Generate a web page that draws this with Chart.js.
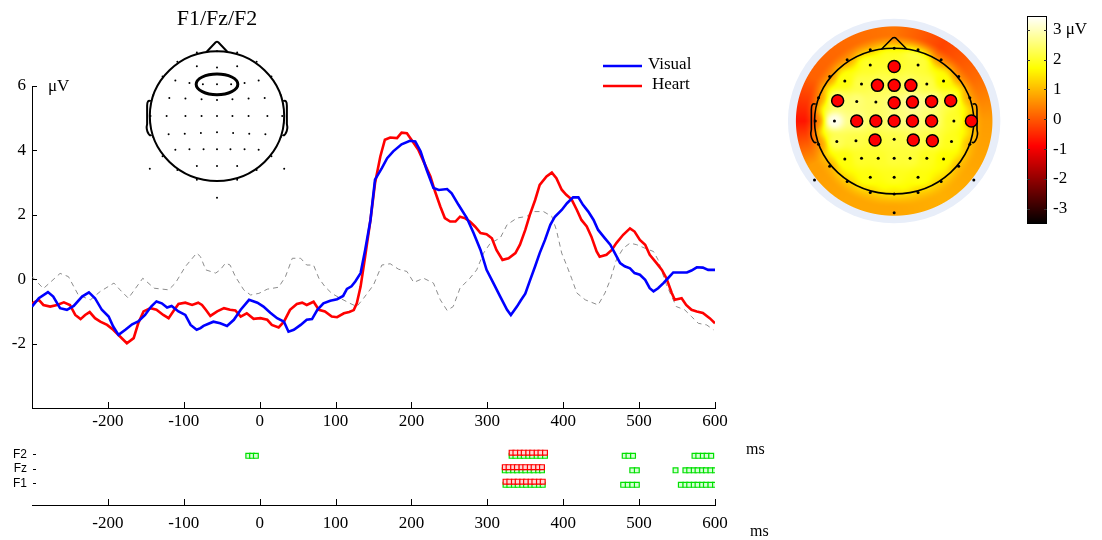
<!DOCTYPE html>
<html>
<head>
<meta charset="utf-8">
<script src="https://cdn.jsdelivr.net/npm/chart.js@4.4.0/dist/chart.umd.min.js"></script>
<style>
body { margin: 0; background: #fff; }
#wrap { position: relative; width: 1102px; height: 540px; overflow: hidden; background: #fff; }
canvas { position: absolute; }
</style>
</head>
<body>
<div id="wrap">
  <canvas id="erp" width="760" height="430" style="left:0;top:0"></canvas>
  <canvas id="sig" width="800" height="110" style="left:0;top:430px"></canvas>
  <canvas id="head" width="180" height="215" style="left:127px;top:0"></canvas>
  <canvas id="topo" width="250" height="240" style="left:770px;top:0"></canvas>
  <canvas id="cbar" width="87" height="240" style="left:1015px;top:0"></canvas>
</div>
<script>
const SERIF = 'Liberation Serif';
const SANS = 'Liberation Sans';

// ---- ERP traces at F1/Fz/F2 (ms, microvolts) ----
const visualTime = [-300,-291,-279,-272,-263,-254,-245,-234,-225,-217,-208,-199,-193,-186,-177,-168,-160,-151,-143,-136,-129,-122,-116,-107,-98,-91,-83,-78,-74,-69,-61,-52,-43,-34,-25,-14,-3,5,14,23,32,38,45,54,62,69,76,84,93,102,110,115,121,126,133,139,146,152,161,168,176,187,198,205,212,220,229,236,247,253,262,273,282,291,299,308,317,326,331,339,344,350,356,363,369,376,383,389,398,405,413,420,426,433,440,446,455,462,468,475,481,488,494,501,508,514,519,525,532,538,545,554,563,569,576,584,591,600];
const visualData = [-0.85,-0.59,-0.40,-0.54,-0.90,-0.95,-0.83,-0.54,-0.41,-0.59,-0.95,-1.16,-1.47,-1.73,-1.57,-1.40,-1.31,-1.11,-0.85,-0.69,-0.75,-0.88,-0.83,-1.00,-1.11,-1.42,-1.57,-1.52,-1.45,-1.40,-1.32,-1.37,-1.45,-1.26,-0.95,-0.64,-0.73,-0.85,-1.04,-1.21,-1.32,-1.63,-1.57,-1.42,-1.26,-1.24,-0.95,-0.75,-0.67,-0.62,-0.52,-0.30,-0.22,-0.07,0.19,0.91,1.84,3.09,3.45,3.76,3.97,4.19,4.30,4.28,3.97,3.40,2.83,2.77,2.80,2.67,2.31,1.90,1.43,0.91,0.29,-0.12,-0.54,-0.95,-1.11,-0.85,-0.66,-0.45,-0.05,0.40,0.81,1.22,1.69,1.94,2.15,2.36,2.54,2.54,2.31,2.10,1.84,1.53,1.27,1.07,0.81,0.50,0.40,0.34,0.19,0.14,-0.02,-0.28,-0.38,-0.28,-0.12,0.03,0.21,0.21,0.21,0.27,0.37,0.36,0.29,0.29];

const heartTime = [-300,-291,-285,-276,-267,-258,-250,-243,-236,-230,-224,-217,-210,-201,-193,-184,-175,-166,-160,-153,-144,-136,-127,-120,-114,-107,-98,-89,-81,-76,-71,-65,-56,-47,-39,-32,-25,-17,-8,1,10,16,25,32,40,49,56,62,71,78,86,95,102,111,118,124,128,133,139,146,152,159,165,172,181,187,194,200,209,218,225,231,238,244,251,258,264,271,277,284,291,299,306,312,320,328,337,343,350,356,363,369,378,385,391,398,404,411,418,424,431,437,444,448,457,464,470,479,488,494,501,508,514,523,530,536,543,547,556,562,569,576,584,593,600];
const heartData = [-0.75,-0.64,-0.80,-0.85,-0.80,-0.72,-0.80,-1.11,-1.24,-1.11,-1.02,-1.21,-1.32,-1.42,-1.57,-1.78,-1.99,-1.83,-1.37,-1.00,-0.90,-0.95,-1.11,-1.21,-1.00,-0.77,-0.73,-0.80,-0.73,-0.80,-0.95,-1.14,-1.00,-0.90,-0.95,-0.97,-1.16,-1.06,-1.23,-1.21,-1.26,-1.42,-1.50,-1.32,-0.95,-0.77,-0.73,-0.80,-0.70,-0.95,-1.00,-1.16,-1.18,-1.06,-1.02,-0.96,-0.75,-0.23,0.70,1.84,2.98,3.81,4.33,4.40,4.38,4.55,4.53,4.33,4.02,3.55,3.19,2.73,2.26,1.90,1.79,1.79,1.94,1.89,1.79,1.63,1.43,1.40,1.27,0.91,0.60,0.65,0.81,1.07,1.53,2.00,2.46,2.93,3.19,3.31,3.14,2.78,2.62,2.48,2.15,1.84,1.64,1.33,0.86,0.70,0.76,0.91,1.12,1.38,1.58,1.48,1.22,1.07,0.76,0.50,0.29,0.03,-0.43,-0.64,-0.59,-0.80,-0.95,-1.00,-1.05,-1.21,-1.37];

// difference wave (Heart - Visual), grey dashed
const diffTime = [-300,-285,-263,-252,-239,-223,-210,-192,-184,-173,-165,-154,-139,-120,-111,-98,-83,-78,-71,-58,-52,-45,-39,-32,-21,-12,-1,10,25,34,43,54,62,71,78,86,95,106,119,128,137,150,161,172,183,194,203,216,229,238,247,255,264,277,286,295,304,317,326,339,352,361,374,385,391,398,405,411,418,429,446,455,462,470,479,488,497,508,519,525,530,536,543,549,560,569,578,589,598];
const diffData = [0.08,-0.29,0.18,0.08,-0.49,-0.64,-0.38,-0.12,-0.33,-0.59,-0.33,0.03,-0.28,-0.33,-0.12,0.39,0.81,0.70,0.29,0.19,0.29,0.50,0.44,0.08,-0.33,-0.49,-0.44,-0.31,-0.25,0.08,0.65,0.65,0.44,0.44,0.03,-0.23,-0.44,-0.59,-0.75,-0.85,-0.59,-0.18,0.44,0.48,0.31,0.24,-0.10,0.03,-0.12,-0.64,-0.97,-0.85,-0.28,0.03,0.29,0.81,1.12,1.28,1.69,1.90,1.95,2.10,2.10,1.95,1.53,0.81,0.40,0.03,-0.43,-0.64,-0.80,-0.43,-0.02,0.60,0.96,1.12,1.07,0.96,0.86,0.60,0.24,-0.17,-0.54,-0.85,-0.95,-1.16,-1.37,-1.42,-1.57];

// ---- significant samples per channel (ms) ----
const sigRows = ['F1', 'Fz', 'F2'];
const heartSigF2 = [332,337,343,348,354,359,365,370,376];
const heartSigFz = [323,328,334,339,345,350,356,361,367,372];
const heartSigF1 = [324,329,335,340,346,351,357,362,368,373];
const visualSigF2 = [-15,-10,-5,332,337,343,348,354,359,365,370,376,481,486,492,573,578,584,589,595];
const visualSigFz = [323,328,334,339,345,350,356,361,367,372,491,497,548,561,566,572,577,583,588,594,600];
const visualSigF1 = [324,329,335,340,346,351,357,362,368,373,479,485,491,497,555,561,566,572,577,583,588,594,600];

// ---- electrode montage (head units) and scalp values for the map ----
const electrodeNames = ['Fp1','Fpz','Fp2','AF7','AF3','AFz','AF4','AF8','F7','F5','F3','F1','Fz','F2','F4','F6','F8','FT7','FC5','FC3','FC1','FCz','FC2','FC4','FC6','FT8','T7','C5','C3','C1','Cz','C2','C4','C6','T8','TP7','CP5','CP3','CP1','CPz','CP2','CP4','CP6','TP8','P7','P5','P3','P1','Pz','P2','P4','P6','P8','PO7','PO5','PO3','POz','PO4','PO6','PO8','O1','Oz','O2','Iz'];
const electrodeX = [-0.30,0,0.30,-0.59,-0.30,0,0.30,0.59,-0.81,-0.62,-0.41,-0.21,0,0.21,0.41,0.62,0.81,-0.95,-0.71,-0.47,-0.23,0,0.23,0.47,0.71,0.95,-0.99,-0.75,-0.47,-0.23,0,0.23,0.47,0.75,0.97,-0.95,-0.72,-0.48,-0.24,0,0.24,0.48,0.72,0.95,-0.81,-0.62,-0.41,-0.20,0,0.20,0.41,0.62,0.81,-1.0,-0.59,-0.30,0,0.30,0.59,1.0,-0.30,0,0.30,0];
const electrodeY = [0.98,1.0,0.98,0.84,0.77,0.75,0.77,0.84,0.61,0.55,0.51,0.49,0.49,0.49,0.51,0.55,0.61,0.32,0.28,0.27,0.26,0.25,0.26,0.27,0.28,0.32,0,0,0,0,0,0,0,0,0,-0.32,-0.28,-0.27,-0.26,-0.25,-0.26,-0.27,-0.28,-0.32,-0.62,-0.52,-0.51,-0.51,-0.51,-0.51,-0.51,-0.52,-0.62,-0.81,-0.83,-0.77,-0.77,-0.77,-0.83,-0.81,-0.98,-1.0,-0.98,-1.26];
const topoValues = [1.6,1.9,2.3,1.2,2.0,2.0,2.1,1.1,1.1,1.8,2.2,2.3,2.3,2.4,2.2,1.7,1.1,1.2,2.6,2.5,2.4,2.6,2.9,2.7,2.2,1.2,0.8,3.3,2.7,2.4,2.6,2.7,2.5,2.0,1.3,1.0,2.3,2.2,2.1,2.2,2.3,2.2,1.9,1.3,1.2,1.8,2.0,2.0,2.1,2.1,1.9,1.7,1.3,0.9,1.5,1.8,1.9,1.8,1.5,1.0,1.5,1.6,1.5,1.1];
// value at the rim of the map, every 30 degrees clockwise from the nose
const rimValues = [0.3,-0.2,0.2,0.7,0.8,0.9,0.8,0.8,0.7,-0.7,0.1,0.2];
const significantElectrodes = ['AFz','F1','Fz','F2','FC5','FCz','FC2','FC4','FC6','C3','C1','Cz','C2','C4','T8','CP1','CP2','CP4'];
const roiElectrodes = ['F1', 'Fz', 'F2'];
const colorbarTicks = [-3, -2, -1, 0, 1, 2, 3];

const hotMin = -3.5, hotMax = 3.45;
function hot(v) {
  const f = Math.min(1, Math.max(0, (v - hotMin) / (hotMax - hotMin)));
  const r = Math.min(1, f / 0.375);
  const g = Math.min(1, Math.max(0, (f - 0.375) / 0.375));
  const b = Math.min(1, Math.max(0, (f - 0.75) / 0.25));
  return [Math.round(r * 255), Math.round(g * 255), Math.round(b * 255)];
}

function toPoints(ts, vs) {
  return ts.map((t, i) => ({x: t, y: vs[i]}));
}

// nose, ears and outline of a head in head units
function drawHead(ctx, x, y, lw) {
  const cx = x.getPixelForValue(0), cy = y.getPixelForValue(0);
  const ux = x.getPixelForValue(1) - cx, uy = cy - y.getPixelForValue(1);
  const P = (a, b) => [cx + a * ux, cy - b * uy];
  ctx.save();
  ctx.strokeStyle = '#000';
  ctx.lineWidth = lw;
  ctx.beginPath();
  ctx.ellipse(cx, cy, ux, uy, 0, 0, 2 * Math.PI);
  ctx.stroke();
  ctx.beginPath();
  ctx.moveTo(...P(-0.16, 0.985));
  ctx.lineTo(...P(-0.02, 1.14));
  ctx.quadraticCurveTo(...P(0, 1.155), ...P(0.02, 1.14));
  ctx.lineTo(...P(0.16, 0.985));
  ctx.stroke();
  for (const s of [-1, 1]) {
    ctx.beginPath();
    ctx.moveTo(...P(s * 0.985, 0.23));
    ctx.quadraticCurveTo(...P(s * 1.04, 0.26), ...P(s * 1.04, 0.16));
    ctx.lineTo(...P(s * 1.04, -0.12));
    ctx.quadraticCurveTo(...P(s * 1.06, -0.2), ...P(s * 1.02, -0.27));
    ctx.quadraticCurveTo(...P(s * 1.0, -0.31), ...P(s * 0.975, -0.29));
    ctx.stroke();
  }
  ctx.restore();
}

// ---------- main ERP chart ----------
const erpDecor = {
  id: 'erpDecor',
  afterDraw(chart) {
    const {ctx, chartArea: a, scales: {x, y}} = chart;
    ctx.save();
    ctx.strokeStyle = '#000';
    ctx.lineWidth = 1;
    ctx.beginPath();
    x.ticks.filter(t => t.value > x.min).forEach(t => {
      const px = Math.round(x.getPixelForValue(t.value)) + 0.5;
      ctx.moveTo(px, a.bottom);
      ctx.lineTo(px, a.bottom - 6);
    });
    y.ticks.filter(t => t.value > y.min).forEach(t => {
      const py = Math.round(y.getPixelForValue(t.value)) + 0.5;
      ctx.moveTo(a.left, py);
      ctx.lineTo(a.left + 5, py);
    });
    ctx.stroke();
    ctx.fillStyle = '#000';
    ctx.font = '17px ' + SERIF;
    ctx.textBaseline = 'middle';
    ctx.textAlign = 'left';
    ctx.fillText('\u03bcV', a.left + 16, y.getPixelForValue(6) + 1);
    // legend
    const legendItems = chart.data.datasets.filter(d => d.label !== 'Heart - Visual');
    legendItems.forEach((d, i) => {
      const ly = 66 + i * 20;
      ctx.strokeStyle = d.borderColor;
      ctx.lineWidth = 2.5;
      ctx.beginPath();
      ctx.moveTo(603, ly);
      ctx.lineTo(642, ly);
      ctx.stroke();
      ctx.fillStyle = '#000';
      ctx.fillText(d.label, i === 0 ? 648 : 652, ly - 1);
    });
    ctx.restore();
  }
};

new Chart(document.getElementById('erp'), {
  type: 'line',
  data: {
    datasets: [
      {label: 'Visual', data: toPoints(visualTime, visualData), borderColor: '#0000ff', borderWidth: 2.6, pointRadius: 0, tension: 0},
      {label: 'Heart', data: toPoints(heartTime, heartData), borderColor: '#ff0000', borderWidth: 2.6, pointRadius: 0, tension: 0},
      {label: 'Heart - Visual', data: toPoints(diffTime, diffData), borderColor: '#8c8c8c', borderWidth: 1, borderDash: [5, 4], pointRadius: 0, tension: 0}
    ]
  },
  options: {
    responsive: false,
    animation: false,
    events: [],
    layout: {padding: {top: 86, right: 45, left: 0, bottom: 0}},
    plugins: {legend: {display: false}, tooltip: {enabled: false}},
    scales: {
      x: {
        type: 'linear', min: -300, max: 600,
        ticks: {stepSize: 100, autoSkip: false, maxRotation: 0, padding: 3, color: '#000',
          font: {family: SERIF, size: 17}, callback: v => (v === -300 ? '' : v)},
        grid: {drawOnChartArea: false, drawTicks: false},
        border: {color: '#000', width: 1},
        afterFit: s => { s.height = 22; }
      },
      y: {
        min: -4, max: 6,
        ticks: {stepSize: 2, padding: 6, color: '#000',
          font: {family: SERIF, size: 17}, callback: v => (v === -4 ? '' : v)},
        grid: {drawOnChartArea: false, drawTicks: false},
        border: {color: '#000', width: 1},
        afterFit: s => { s.width = 32; }
      }
    }
  },
  plugins: [erpDecor]
});

// ---------- significance raster ----------
const rowValue = name => sigRows.indexOf(name) + 1;
const sigDecor = {
  id: 'sigDecor',
  afterDraw(chart) {
    const {ctx, chartArea: a, scales: {x, y}} = chart;
    ctx.save();
    ctx.strokeStyle = '#000';
    ctx.lineWidth = 1;
    ctx.beginPath();
    x.ticks.filter(t => t.value > x.min).forEach(t => {
      const px = Math.round(x.getPixelForValue(t.value)) + 0.5;
      ctx.moveTo(px, a.bottom);
      ctx.lineTo(px, a.bottom - 6);
    });
    sigRows.forEach(r => {
      const py = Math.round(y.getPixelForValue(rowValue(r))) + 0.5;
      ctx.moveTo(a.left + 1, py);
      ctx.lineTo(a.left + 4, py);
    });
    ctx.stroke();
    ctx.fillStyle = '#000';
    ctx.font = '16px ' + SERIF;
    ctx.textBaseline = 'middle';
    ctx.fillText('ms', 746, 20);
    ctx.fillText('ms', 750, 102);
    ctx.restore();
  }
};

function sigSet(times, row, color, fill, shift) {
  return {
    data: times.map(t => ({x: t, y: rowValue(row) + shift})),
    showLine: false, pointStyle: 'rect', pointRadius: 3.4,
    borderColor: color, backgroundColor: fill, borderWidth: 1.2
  };
}

new Chart(document.getElementById('sig'), {
  type: 'scatter',
  data: {
    datasets: [
      sigSet(heartSigF2, 'F2', '#ff0000', '#ffd6d6', 0.11),
      sigSet(heartSigFz, 'Fz', '#ff0000', '#ffd6d6', 0.11),
      sigSet(heartSigF1, 'F1', '#ff0000', '#ffd6d6', 0.11),
      sigSet(visualSigF2, 'F2', '#00e000', '#d6ffd6', -0.11),
      sigSet(visualSigFz, 'Fz', '#00e000', '#d6ffd6', -0.11),
      sigSet(visualSigF1, 'F1', '#00e000', '#d6ffd6', -0.11)
    ]
  },
  options: {
    responsive: false,
    animation: false,
    events: [],
    layout: {padding: {top: 10, right: 85, left: 0, bottom: 0}},
    plugins: {legend: {display: false}, tooltip: {enabled: false}},
    scales: {
      x: {
        type: 'linear', min: -300, max: 600,
        ticks: {stepSize: 100, autoSkip: false, maxRotation: 0, padding: 8, color: '#000',
          font: {family: SERIF, size: 17}, callback: v => (v === -300 ? '' : v)},
        grid: {drawOnChartArea: false, drawTicks: false},
        border: {color: '#000', width: 1},
        afterFit: s => { s.height = 35; }
      },
      y: {
        min: -0.5, max: 3.83,
        afterBuildTicks: s => { s.ticks = sigRows.map(r => ({value: rowValue(r)})); },
        ticks: {padding: 5, color: '#000', font: {family: SANS, size: 12},
          callback: v => sigRows[Math.round(v) - 1] || ''},
        grid: {drawOnChartArea: false, drawTicks: false},
        border: {display: false},
        afterFit: s => { s.width = 32; }
      }
    }
  },
  plugins: [sigDecor]
});

// ---------- electrode diagram with the F1/Fz/F2 region ----------
const headDecor = {
  id: 'headDecor',
  beforeDatasetsDraw(chart) {
    const {ctx, scales: {x, y}} = chart;
    drawHead(ctx, x, y, 2);
    const roiX = roiElectrodes.map(n => electrodeX[electrodeNames.indexOf(n)]);
    const roiY = roiElectrodes.map(n => electrodeY[electrodeNames.indexOf(n)]);
    const mx = (Math.min(...roiX) + Math.max(...roiX)) / 2;
    const my = roiY.reduce((s, v) => s + v, 0) / roiY.length;
    const cx = x.getPixelForValue(mx), cy = y.getPixelForValue(my);
    const rx = x.getPixelForValue(Math.max(...roiX) + 0.1) - cx;
    const ry = cy - y.getPixelForValue(my + 0.16);
    ctx.save();
    ctx.strokeStyle = '#000';
    ctx.lineWidth = 3;
    ctx.beginPath();
    ctx.ellipse(cx, cy, rx, ry, 0, 0, 2 * Math.PI);
    ctx.stroke();
    ctx.restore();
  }
};

new Chart(document.getElementById('head'), {
  type: 'scatter',
  data: {
    datasets: [{
      data: electrodeNames.map((n, i) => ({x: electrodeX[i], y: electrodeY[i]})),
      pointRadius: 1, backgroundColor: '#000', borderWidth: 0
    }]
  },
  options: {
    responsive: false,
    animation: false,
    events: [],
    layout: {padding: 0},
    plugins: {
      legend: {display: false}, tooltip: {enabled: false},
      title: {display: true, text: 'F1/Fz/F2', color: '#000',
        font: {family: SERIF, size: 22, weight: 'normal'}, padding: {top: 6, bottom: 0}}
    },
    scales: {
      x: {display: false, min: -1.28, max: 1.28},
      y: {display: false, min: -1.463, max: 1.291}
    }
  },
  plugins: [headDecor]
});

// ---------- scalp map ----------
const discRX = 1.234, discRY = 1.30, ringRX = 1.334, ringRY = 1.403;
function rimValue(deg) {
  const n = rimValues.length, step = 360 / n;
  const k = (((deg % 360) + 360) % 360) / step;
  const i = Math.floor(k) % n, f = k - Math.floor(k);
  return rimValues[i] * (1 - f) + rimValues[(i + 1) % n] * f;
}
function fieldAt(nx, ny) {
  let sw = 0, sv = 0;
  for (let i = 0; i < electrodeNames.length; i++) {
    const dx = nx - electrodeX[i], dy = ny - electrodeY[i];
    const d2 = dx * dx + dy * dy;
    if (d2 < 1e-8) return topoValues[i];
    const w = 1 / (d2 * Math.sqrt(d2));
    sw += w;
    sv += w * topoValues[i];
  }
  return sv / sw;
}

const topoField = {
  id: 'topoField',
  beforeDatasetsDraw(chart) {
    const {ctx, scales: {x, y}} = chart;
    const cx = x.getPixelForValue(0), cy = y.getPixelForValue(0);
    const ux = x.getPixelForValue(1) - cx, uy = cy - y.getPixelForValue(1);
    ctx.save();
    ctx.fillStyle = '#e8eef9';
    ctx.beginPath();
    ctx.ellipse(cx, cy, ringRX * ux, ringRY * uy, 0, 0, 2 * Math.PI);
    ctx.fill();

    const x0 = Math.floor(cx - discRX * ux) - 1, y0 = Math.floor(cy - discRY * uy) - 1;
    const w = Math.ceil(2 * discRX * ux) + 3, h = Math.ceil(2 * discRY * uy) + 3;
    const off = document.createElement('canvas');
    off.width = w; off.height = h;
    const octx = off.getContext('2d');
    const img = octx.createImageData(w, h);
    for (let j = 0; j < h; j++) {
      for (let i = 0; i < w; i++) {
        const nx = x.getValueForPixel(x0 + i + 0.5);
        const ny = y.getValueForPixel(y0 + j + 0.5);
        const rn = Math.sqrt((nx / discRX) ** 2 + (ny / discRY) ** 2);
        if (rn > 1.01) continue;
        let t = Math.min(1, Math.max(0, (rn - 0.7) / 0.22));
        t = t * t * (3 - 2 * t);
        const deg = Math.atan2(nx, ny) * 180 / Math.PI;
        const v = fieldAt(nx, ny) * (1 - t) + rimValue(deg) * t;
        const c = hot(v);
        const k = (j * w + i) * 4;
        img.data[k] = c[0];
        img.data[k + 1] = c[1];
        img.data[k + 2] = c[2];
        img.data[k + 3] = Math.round(255 * Math.min(1, Math.max(0, (1 - rn) * 100 + 0.5)));
      }
    }
    octx.putImageData(img, 0, 0);
    ctx.drawImage(off, x0, y0);
    ctx.restore();
    drawHead(ctx, x, y, 1.6);
  }
};

const isSig = n => significantElectrodes.includes(n);
new Chart(document.getElementById('topo'), {
  type: 'scatter',
  data: {
    datasets: [
      {
        data: electrodeNames.filter(isSig).map(n => {
          const i = electrodeNames.indexOf(n);
          return {x: electrodeX[i], y: electrodeY[i]};
        }),
        pointRadius: 6, backgroundColor: '#ff0000', borderColor: '#000', borderWidth: 1.5
      },
      {
        data: electrodeNames.filter(n => !isSig(n)).map(n => {
          const i = electrodeNames.indexOf(n);
          return {x: electrodeX[i], y: electrodeY[i]};
        }),
        pointRadius: 1.5, backgroundColor: '#000', borderWidth: 0
      }
    ]
  },
  options: {
    responsive: false,
    animation: false,
    events: [],
    layout: {padding: 0},
    plugins: {legend: {display: false}, tooltip: {enabled: false}},
    scales: {
      x: {display: false, min: -1.465, max: 1.486},
      y: {display: false, min: -1.530, max: 1.559}
    }
  },
  plugins: [topoField]
});

// ---------- colour bar ----------
const cbarFill = {
  id: 'cbarFill',
  beforeDatasetsDraw(chart) {
    const {ctx, chartArea: a, scales: {y}} = chart;
    ctx.save();
    for (let py = Math.floor(a.top); py < a.bottom; py++) {
      const c = hot(y.getValueForPixel(py + 0.5));
      ctx.fillStyle = 'rgb(' + c.join(',') + ')';
      ctx.fillRect(a.left, py, a.right - a.left, 1);
    }
    ctx.strokeStyle = '#000';
    ctx.lineWidth = 1;
    ctx.strokeRect(Math.round(a.left) + 0.5, Math.round(a.top) + 0.5, Math.round(a.right - a.left) - 1, Math.round(a.bottom - a.top) - 1);
    ctx.strokeStyle = '#333';
    ctx.beginPath();
    colorbarTicks.forEach(v => {
      const py = Math.round(y.getPixelForValue(v)) + 0.5;
      ctx.moveTo(a.left, py); ctx.lineTo(a.left + 3, py);
      ctx.moveTo(a.right - 3, py); ctx.lineTo(a.right, py);
    });
    ctx.stroke();
    ctx.restore();
  }
};

new Chart(document.getElementById('cbar'), {
  type: 'scatter',
  data: {datasets: []},
  options: {
    responsive: false,
    animation: false,
    events: [],
    layout: {padding: {left: 12, top: 13, bottom: 10, right: 0}},
    plugins: {legend: {display: false}, tooltip: {enabled: false}},
    scales: {
      x: {display: false, min: 0, max: 1},
      y: {
        position: 'right', min: -3.5, max: 3.45,
        afterBuildTicks: s => { s.ticks = colorbarTicks.map(v => ({value: v})); },
        ticks: {padding: 6, color: '#000', font: {family: SERIF, size: 17},
          callback: v => (v === 3 ? '3 \u03bcV' : v)},
        grid: {drawOnChartArea: false, drawTicks: false},
        border: {display: false},
        afterFit: s => { s.width = 55; }
      }
    }
  },
  plugins: [cbarFill]
});
</script>
</body>
</html>
